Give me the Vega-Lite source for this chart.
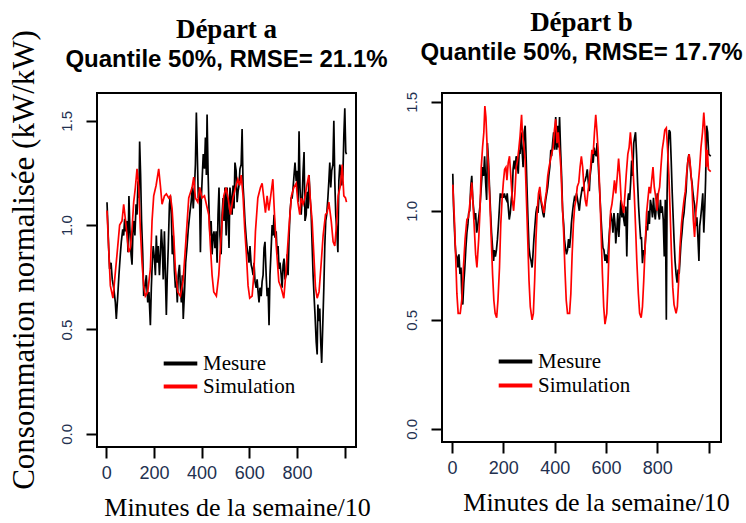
{
"$schema": "https://vega.github.io/schema/vega-lite/v6.json",
"background": "white",
"padding": {"left": 0, "top": 8, "right": 0, "bottom": 0},
"config": {
  "view": {"stroke": "black", "strokeWidth": 2},
  "axis": {"grid": false, "domain": false, "tickColor": "black", "tickWidth": 2, "tickSize": 11, "labelFont": "Liberation Sans", "labelColor": "#22304f", "titleFont": "Liberation Serif", "titleFontWeight": "normal", "titleColor": "black"},
  "legend": {"orient": "none", "title": null, "symbolType": "M-1.6,0H1.6", "symbolStrokeWidth": 4, "symbolSize": 441, "labelFont": "Liberation Serif", "labelFontSize": 21, "labelColor": "black", "rowPadding": 0, "labelOffset": 10, "padding": 0},
  "title": {"font": "Liberation Serif", "fontSize": 27, "fontWeight": "bold", "color": "black", "subtitleFont": "Liberation Sans", "subtitleFontSize": 24, "subtitleFontWeight": "bold", "subtitleColor": "black", "anchor": "middle", "subtitlePadding": 4}
},
"bounds": "flush",
"spacing": 47,
"datasets": {
"a": [
{"x":3,"y":1.11,"s":"Mesure"},{"x":10,"y":0.89,"s":"Mesure"},{"x":14,"y":0.79,"s":"Mesure"},{"x":20,"y":0.82,"s":"Mesure"},{"x":25,"y":0.74,"s":"Mesure"},{"x":31,"y":0.70,"s":"Mesure"},{"x":38,"y":0.63,"s":"Mesure"},{"x":42,"y":0.55,"s":"Mesure"},{"x":48,"y":0.66,"s":"Mesure"},{"x":53,"y":0.76,"s":"Mesure"},{"x":59,"y":0.86,"s":"Mesure"},{"x":63,"y":0.92,"s":"Mesure"},{"x":69,"y":0.98,"s":"Mesure"},{"x":73,"y":0.95,"s":"Mesure"},{"x":77,"y":1.03,"s":"Mesure"},{"x":81,"y":0.97,"s":"Mesure"},{"x":87,"y":1.02,"s":"Mesure"},{"x":91,"y":0.87,"s":"Mesure"},{"x":95,"y":1.14,"s":"Mesure"},{"x":99,"y":0.98,"s":"Mesure"},{"x":104,"y":0.86,"s":"Mesure"},{"x":108,"y":0.81,"s":"Mesure"},{"x":112,"y":0.98,"s":"Mesure"},{"x":116,"y":1.02,"s":"Mesure"},{"x":120,"y":0.95,"s":"Mesure"},{"x":125,"y":1.10,"s":"Mesure"},{"x":129,"y":1.05,"s":"Mesure"},{"x":133,"y":1.21,"s":"Mesure"},{"x":137,"y":1.13,"s":"Mesure"},{"x":140,"y":1.40,"s":"Mesure"},{"x":144,"y":1.24,"s":"Mesure"},{"x":148,"y":1.02,"s":"Mesure"},{"x":153,"y":0.86,"s":"Mesure"},{"x":157,"y":0.66,"s":"Mesure"},{"x":162,"y":0.70,"s":"Mesure"},{"x":168,"y":0.76,"s":"Mesure"},{"x":174,"y":0.63,"s":"Mesure"},{"x":179,"y":0.68,"s":"Mesure"},{"x":185,"y":0.52,"s":"Mesure"},{"x":189,"y":0.70,"s":"Mesure"},{"x":193,"y":0.82,"s":"Mesure"},{"x":197,"y":0.90,"s":"Mesure"},{"x":202,"y":0.84,"s":"Mesure"},{"x":206,"y":0.76,"s":"Mesure"},{"x":210,"y":0.95,"s":"Mesure"},{"x":214,"y":0.82,"s":"Mesure"},{"x":218,"y":0.90,"s":"Mesure"},{"x":223,"y":0.76,"s":"Mesure"},{"x":227,"y":0.86,"s":"Mesure"},{"x":231,"y":0.98,"s":"Mesure"},{"x":235,"y":0.90,"s":"Mesure"},{"x":239,"y":0.74,"s":"Mesure"},{"x":244,"y":0.97,"s":"Mesure"},{"x":248,"y":0.76,"s":"Mesure"},{"x":252,"y":0.57,"s":"Mesure"},{"x":256,"y":0.76,"s":"Mesure"},{"x":260,"y":0.89,"s":"Mesure"},{"x":265,"y":1.10,"s":"Mesure"},{"x":269,"y":1.14,"s":"Mesure"},{"x":273,"y":1.05,"s":"Mesure"},{"x":277,"y":0.86,"s":"Mesure"},{"x":281,"y":0.95,"s":"Mesure"},{"x":286,"y":0.78,"s":"Mesure"},{"x":290,"y":0.70,"s":"Mesure"},{"x":294,"y":0.73,"s":"Mesure"},{"x":298,"y":0.63,"s":"Mesure"},{"x":302,"y":0.76,"s":"Mesure"},{"x":307,"y":0.81,"s":"Mesure"},{"x":311,"y":0.70,"s":"Mesure"},{"x":315,"y":0.63,"s":"Mesure"},{"x":319,"y":0.76,"s":"Mesure"},{"x":323,"y":0.55,"s":"Mesure"},{"x":329,"y":0.70,"s":"Mesure"},{"x":333,"y":0.82,"s":"Mesure"},{"x":339,"y":0.90,"s":"Mesure"},{"x":344,"y":0.98,"s":"Mesure"},{"x":350,"y":1.05,"s":"Mesure"},{"x":356,"y":1.11,"s":"Mesure"},{"x":361,"y":1.18,"s":"Mesure"},{"x":365,"y":1.08,"s":"Mesure"},{"x":370,"y":1.18,"s":"Mesure"},{"x":374,"y":1.29,"s":"Mesure"},{"x":378,"y":1.54,"s":"Mesure"},{"x":382,"y":1.34,"s":"Mesure"},{"x":386,"y":1.13,"s":"Mesure"},{"x":391,"y":1.18,"s":"Mesure"},{"x":395,"y":0.87,"s":"Mesure"},{"x":399,"y":1.13,"s":"Mesure"},{"x":403,"y":1.24,"s":"Mesure"},{"x":407,"y":1.34,"s":"Mesure"},{"x":412,"y":1.27,"s":"Mesure"},{"x":416,"y":1.42,"s":"Mesure"},{"x":420,"y":1.24,"s":"Mesure"},{"x":423,"y":1.53,"s":"Mesure"},{"x":427,"y":1.26,"s":"Mesure"},{"x":431,"y":1.08,"s":"Mesure"},{"x":435,"y":0.95,"s":"Mesure"},{"x":440,"y":1.02,"s":"Mesure"},{"x":444,"y":0.86,"s":"Mesure"},{"x":448,"y":0.95,"s":"Mesure"},{"x":452,"y":0.97,"s":"Mesure"},{"x":456,"y":0.89,"s":"Mesure"},{"x":461,"y":0.97,"s":"Mesure"},{"x":465,"y":0.82,"s":"Mesure"},{"x":469,"y":1.05,"s":"Mesure"},{"x":473,"y":1.18,"s":"Mesure"},{"x":477,"y":0.95,"s":"Mesure"},{"x":482,"y":0.86,"s":"Mesure"},{"x":486,"y":1.05,"s":"Mesure"},{"x":490,"y":1.13,"s":"Mesure"},{"x":494,"y":1.02,"s":"Mesure"},{"x":498,"y":1.18,"s":"Mesure"},{"x":503,"y":0.95,"s":"Mesure"},{"x":507,"y":1.18,"s":"Mesure"},{"x":511,"y":1.05,"s":"Mesure"},{"x":515,"y":0.89,"s":"Mesure"},{"x":519,"y":1.18,"s":"Mesure"},{"x":524,"y":1.13,"s":"Mesure"},{"x":528,"y":1.05,"s":"Mesure"},{"x":532,"y":1.19,"s":"Mesure"},{"x":536,"y":1.08,"s":"Mesure"},{"x":540,"y":1.30,"s":"Mesure"},{"x":545,"y":1.26,"s":"Mesure"},{"x":549,"y":1.11,"s":"Mesure"},{"x":553,"y":1.16,"s":"Mesure"},{"x":557,"y":1.19,"s":"Mesure"},{"x":561,"y":1.27,"s":"Mesure"},{"x":566,"y":1.29,"s":"Mesure"},{"x":570,"y":1.46,"s":"Mesure"},{"x":574,"y":1.19,"s":"Mesure"},{"x":578,"y":1.11,"s":"Mesure"},{"x":582,"y":1.02,"s":"Mesure"},{"x":587,"y":0.94,"s":"Mesure"},{"x":591,"y":0.89,"s":"Mesure"},{"x":595,"y":0.86,"s":"Mesure"},{"x":599,"y":0.82,"s":"Mesure"},{"x":603,"y":0.90,"s":"Mesure"},{"x":608,"y":0.81,"s":"Mesure"},{"x":612,"y":0.79,"s":"Mesure"},{"x":616,"y":0.76,"s":"Mesure"},{"x":620,"y":0.82,"s":"Mesure"},{"x":624,"y":0.73,"s":"Mesure"},{"x":629,"y":0.70,"s":"Mesure"},{"x":633,"y":0.74,"s":"Mesure"},{"x":637,"y":0.68,"s":"Mesure"},{"x":641,"y":0.63,"s":"Mesure"},{"x":645,"y":0.70,"s":"Mesure"},{"x":650,"y":0.66,"s":"Mesure"},{"x":654,"y":0.73,"s":"Mesure"},{"x":658,"y":0.76,"s":"Mesure"},{"x":662,"y":0.89,"s":"Mesure"},{"x":666,"y":0.92,"s":"Mesure"},{"x":671,"y":0.76,"s":"Mesure"},{"x":675,"y":0.66,"s":"Mesure"},{"x":679,"y":0.70,"s":"Mesure"},{"x":683,"y":0.52,"s":"Mesure"},{"x":687,"y":0.76,"s":"Mesure"},{"x":692,"y":0.89,"s":"Mesure"},{"x":696,"y":1.00,"s":"Mesure"},{"x":700,"y":0.95,"s":"Mesure"},{"x":704,"y":1.05,"s":"Mesure"},{"x":708,"y":0.94,"s":"Mesure"},{"x":713,"y":0.97,"s":"Mesure"},{"x":717,"y":0.86,"s":"Mesure"},{"x":721,"y":0.90,"s":"Mesure"},{"x":725,"y":0.79,"s":"Mesure"},{"x":729,"y":0.82,"s":"Mesure"},{"x":734,"y":0.76,"s":"Mesure"},{"x":738,"y":0.70,"s":"Mesure"},{"x":742,"y":0.81,"s":"Mesure"},{"x":746,"y":0.84,"s":"Mesure"},{"x":750,"y":0.74,"s":"Mesure"},{"x":755,"y":0.76,"s":"Mesure"},{"x":759,"y":0.86,"s":"Mesure"},{"x":763,"y":0.76,"s":"Mesure"},{"x":767,"y":0.94,"s":"Mesure"},{"x":771,"y":1.06,"s":"Mesure"},{"x":776,"y":1.13,"s":"Mesure"},{"x":780,"y":1.13,"s":"Mesure"},{"x":784,"y":1.18,"s":"Mesure"},{"x":788,"y":1.24,"s":"Mesure"},{"x":792,"y":1.30,"s":"Mesure"},{"x":797,"y":1.21,"s":"Mesure"},{"x":801,"y":1.26,"s":"Mesure"},{"x":805,"y":1.11,"s":"Mesure"},{"x":809,"y":1.45,"s":"Mesure"},{"x":813,"y":1.18,"s":"Mesure"},{"x":818,"y":1.05,"s":"Mesure"},{"x":822,"y":1.13,"s":"Mesure"},{"x":826,"y":1.26,"s":"Mesure"},{"x":830,"y":1.35,"s":"Mesure"},{"x":834,"y":1.02,"s":"Mesure"},{"x":839,"y":1.05,"s":"Mesure"},{"x":843,"y":1.16,"s":"Mesure"},{"x":847,"y":1.08,"s":"Mesure"},{"x":851,"y":1.24,"s":"Mesure"},{"x":855,"y":1.14,"s":"Mesure"},{"x":860,"y":1.05,"s":"Mesure"},{"x":864,"y":0.90,"s":"Mesure"},{"x":868,"y":0.76,"s":"Mesure"},{"x":872,"y":0.66,"s":"Mesure"},{"x":876,"y":0.57,"s":"Mesure"},{"x":881,"y":0.44,"s":"Mesure"},{"x":885,"y":0.38,"s":"Mesure"},{"x":888,"y":0.62,"s":"Mesure"},{"x":892,"y":0.54,"s":"Mesure"},{"x":896,"y":0.60,"s":"Mesure"},{"x":900,"y":0.44,"s":"Mesure"},{"x":904,"y":0.34,"s":"Mesure"},{"x":909,"y":0.54,"s":"Mesure"},{"x":913,"y":0.70,"s":"Mesure"},{"x":917,"y":0.90,"s":"Mesure"},{"x":921,"y":1.02,"s":"Mesure"},{"x":925,"y":1.05,"s":"Mesure"},{"x":930,"y":1.13,"s":"Mesure"},{"x":934,"y":1.21,"s":"Mesure"},{"x":938,"y":1.30,"s":"Mesure"},{"x":942,"y":1.18,"s":"Mesure"},{"x":946,"y":1.26,"s":"Mesure"},{"x":951,"y":1.29,"s":"Mesure"},{"x":955,"y":1.50,"s":"Mesure"},{"x":959,"y":1.21,"s":"Mesure"},{"x":963,"y":1.05,"s":"Mesure"},{"x":967,"y":0.98,"s":"Mesure"},{"x":972,"y":0.87,"s":"Mesure"},{"x":976,"y":1.21,"s":"Mesure"},{"x":980,"y":1.29,"s":"Mesure"},{"x":984,"y":1.26,"s":"Mesure"},{"x":988,"y":1.19,"s":"Mesure"},{"x":993,"y":1.24,"s":"Mesure"},{"x":997,"y":1.43,"s":"Mesure"},{"x":1001,"y":1.56,"s":"Mesure"},{"x":1005,"y":1.35,"s":"Mesure"},{"x":1008,"y":1.34,"s":"Mesure"},
{"x":3,"y":1.07,"s":"Simulation"},{"x":17,"y":0.71,"s":"Simulation"},{"x":28,"y":0.65,"s":"Simulation"},{"x":45,"y":0.86,"s":"Simulation"},{"x":56,"y":1.00,"s":"Simulation"},{"x":66,"y":1.02,"s":"Simulation"},{"x":73,"y":1.10,"s":"Simulation"},{"x":80,"y":1.03,"s":"Simulation"},{"x":87,"y":0.95,"s":"Simulation"},{"x":94,"y":0.87,"s":"Simulation"},{"x":101,"y":0.89,"s":"Simulation"},{"x":108,"y":0.98,"s":"Simulation"},{"x":115,"y":1.11,"s":"Simulation"},{"x":122,"y":1.18,"s":"Simulation"},{"x":129,"y":1.27,"s":"Simulation"},{"x":136,"y":1.18,"s":"Simulation"},{"x":143,"y":0.98,"s":"Simulation"},{"x":150,"y":0.82,"s":"Simulation"},{"x":157,"y":0.71,"s":"Simulation"},{"x":164,"y":0.66,"s":"Simulation"},{"x":174,"y":0.68,"s":"Simulation"},{"x":185,"y":0.79,"s":"Simulation"},{"x":192,"y":1.02,"s":"Simulation"},{"x":199,"y":1.14,"s":"Simulation"},{"x":209,"y":1.19,"s":"Simulation"},{"x":220,"y":1.27,"s":"Simulation"},{"x":227,"y":1.19,"s":"Simulation"},{"x":234,"y":1.10,"s":"Simulation"},{"x":244,"y":1.14,"s":"Simulation"},{"x":252,"y":1.15,"s":"Simulation"},{"x":262,"y":1.13,"s":"Simulation"},{"x":269,"y":1.14,"s":"Simulation"},{"x":276,"y":1.08,"s":"Simulation"},{"x":283,"y":0.95,"s":"Simulation"},{"x":290,"y":0.79,"s":"Simulation"},{"x":300,"y":0.68,"s":"Simulation"},{"x":311,"y":0.66,"s":"Simulation"},{"x":322,"y":0.73,"s":"Simulation"},{"x":332,"y":0.89,"s":"Simulation"},{"x":346,"y":1.13,"s":"Simulation"},{"x":360,"y":1.18,"s":"Simulation"},{"x":367,"y":1.23,"s":"Simulation"},{"x":374,"y":1.13,"s":"Simulation"},{"x":384,"y":1.11,"s":"Simulation"},{"x":392,"y":1.18,"s":"Simulation"},{"x":402,"y":1.13,"s":"Simulation"},{"x":412,"y":1.14,"s":"Simulation"},{"x":420,"y":1.10,"s":"Simulation"},{"x":430,"y":1.05,"s":"Simulation"},{"x":437,"y":0.90,"s":"Simulation"},{"x":444,"y":0.76,"s":"Simulation"},{"x":451,"y":0.68,"s":"Simulation"},{"x":462,"y":0.66,"s":"Simulation"},{"x":472,"y":0.76,"s":"Simulation"},{"x":482,"y":0.95,"s":"Simulation"},{"x":493,"y":1.14,"s":"Simulation"},{"x":503,"y":1.18,"s":"Simulation"},{"x":511,"y":1.13,"s":"Simulation"},{"x":521,"y":1.05,"s":"Simulation"},{"x":532,"y":1.13,"s":"Simulation"},{"x":542,"y":1.18,"s":"Simulation"},{"x":552,"y":1.22,"s":"Simulation"},{"x":560,"y":1.19,"s":"Simulation"},{"x":566,"y":1.24,"s":"Simulation"},{"x":574,"y":1.14,"s":"Simulation"},{"x":581,"y":0.98,"s":"Simulation"},{"x":588,"y":0.86,"s":"Simulation"},{"x":595,"y":0.71,"s":"Simulation"},{"x":602,"y":0.65,"s":"Simulation"},{"x":612,"y":0.66,"s":"Simulation"},{"x":619,"y":0.76,"s":"Simulation"},{"x":626,"y":0.97,"s":"Simulation"},{"x":636,"y":1.13,"s":"Simulation"},{"x":647,"y":1.18,"s":"Simulation"},{"x":654,"y":1.20,"s":"Simulation"},{"x":661,"y":1.13,"s":"Simulation"},{"x":668,"y":1.06,"s":"Simulation"},{"x":675,"y":1.14,"s":"Simulation"},{"x":682,"y":1.07,"s":"Simulation"},{"x":689,"y":1.13,"s":"Simulation"},{"x":699,"y":1.22,"s":"Simulation"},{"x":706,"y":1.05,"s":"Simulation"},{"x":714,"y":0.89,"s":"Simulation"},{"x":724,"y":0.73,"s":"Simulation"},{"x":734,"y":0.70,"s":"Simulation"},{"x":745,"y":0.65,"s":"Simulation"},{"x":755,"y":0.79,"s":"Simulation"},{"x":766,"y":0.98,"s":"Simulation"},{"x":777,"y":1.14,"s":"Simulation"},{"x":787,"y":1.18,"s":"Simulation"},{"x":797,"y":1.20,"s":"Simulation"},{"x":804,"y":1.11,"s":"Simulation"},{"x":812,"y":1.05,"s":"Simulation"},{"x":818,"y":1.13,"s":"Simulation"},{"x":826,"y":1.10,"s":"Simulation"},{"x":833,"y":1.13,"s":"Simulation"},{"x":840,"y":1.18,"s":"Simulation"},{"x":850,"y":1.24,"s":"Simulation"},{"x":857,"y":1.11,"s":"Simulation"},{"x":864,"y":1.02,"s":"Simulation"},{"x":871,"y":0.86,"s":"Simulation"},{"x":878,"y":0.70,"s":"Simulation"},{"x":885,"y":0.65,"s":"Simulation"},{"x":893,"y":0.68,"s":"Simulation"},{"x":902,"y":0.82,"s":"Simulation"},{"x":910,"y":0.95,"s":"Simulation"},{"x":920,"y":1.05,"s":"Simulation"},{"x":927,"y":1.06,"s":"Simulation"},{"x":934,"y":1.11,"s":"Simulation"},{"x":944,"y":1.02,"s":"Simulation"},{"x":952,"y":0.92,"s":"Simulation"},{"x":959,"y":0.90,"s":"Simulation"},{"x":966,"y":1.00,"s":"Simulation"},{"x":973,"y":1.14,"s":"Simulation"},{"x":983,"y":1.19,"s":"Simulation"},{"x":990,"y":1.29,"s":"Simulation"},{"x":997,"y":1.14,"s":"Simulation"},{"x":1004,"y":1.13,"s":"Simulation"},{"x":1008,"y":1.11,"s":"Simulation"}
],
"b": [
{"x":3,"y":1.17,"s":"Mesure"},{"x":6,"y":1.02,"s":"Mesure"},{"x":12,"y":0.85,"s":"Mesure"},{"x":15,"y":0.80,"s":"Mesure"},{"x":19,"y":0.79,"s":"Mesure"},{"x":23,"y":0.74,"s":"Mesure"},{"x":27,"y":0.80,"s":"Mesure"},{"x":31,"y":0.71,"s":"Mesure"},{"x":35,"y":0.74,"s":"Mesure"},{"x":38,"y":0.62,"s":"Mesure"},{"x":42,"y":0.57,"s":"Mesure"},{"x":46,"y":0.67,"s":"Mesure"},{"x":50,"y":0.74,"s":"Mesure"},{"x":54,"y":0.83,"s":"Mesure"},{"x":58,"y":0.90,"s":"Mesure"},{"x":62,"y":0.94,"s":"Mesure"},{"x":65,"y":0.99,"s":"Mesure"},{"x":69,"y":1.00,"s":"Mesure"},{"x":73,"y":1.11,"s":"Mesure"},{"x":77,"y":1.16,"s":"Mesure"},{"x":81,"y":1.05,"s":"Mesure"},{"x":85,"y":1.00,"s":"Mesure"},{"x":88,"y":0.96,"s":"Mesure"},{"x":92,"y":0.99,"s":"Mesure"},{"x":96,"y":0.90,"s":"Mesure"},{"x":100,"y":0.93,"s":"Mesure"},{"x":104,"y":0.97,"s":"Mesure"},{"x":109,"y":1.02,"s":"Mesure"},{"x":114,"y":1.11,"s":"Mesure"},{"x":119,"y":1.20,"s":"Mesure"},{"x":123,"y":1.16,"s":"Mesure"},{"x":127,"y":1.25,"s":"Mesure"},{"x":131,"y":1.13,"s":"Mesure"},{"x":135,"y":1.05,"s":"Mesure"},{"x":138,"y":1.31,"s":"Mesure"},{"x":142,"y":1.23,"s":"Mesure"},{"x":146,"y":1.11,"s":"Mesure"},{"x":150,"y":1.00,"s":"Mesure"},{"x":154,"y":0.90,"s":"Mesure"},{"x":158,"y":0.83,"s":"Mesure"},{"x":162,"y":0.77,"s":"Mesure"},{"x":165,"y":0.82,"s":"Mesure"},{"x":169,"y":0.79,"s":"Mesure"},{"x":173,"y":0.82,"s":"Mesure"},{"x":177,"y":0.87,"s":"Mesure"},{"x":181,"y":0.94,"s":"Mesure"},{"x":185,"y":1.02,"s":"Mesure"},{"x":188,"y":1.08,"s":"Mesure"},{"x":192,"y":1.06,"s":"Mesure"},{"x":196,"y":1.08,"s":"Mesure"},{"x":200,"y":1.06,"s":"Mesure"},{"x":204,"y":1.08,"s":"Mesure"},{"x":208,"y":1.06,"s":"Mesure"},{"x":212,"y":1.05,"s":"Mesure"},{"x":215,"y":1.08,"s":"Mesure"},{"x":219,"y":1.02,"s":"Mesure"},{"x":223,"y":0.96,"s":"Mesure"},{"x":227,"y":0.99,"s":"Mesure"},{"x":231,"y":1.05,"s":"Mesure"},{"x":235,"y":1.09,"s":"Mesure"},{"x":238,"y":1.19,"s":"Mesure"},{"x":242,"y":1.23,"s":"Mesure"},{"x":246,"y":1.19,"s":"Mesure"},{"x":250,"y":1.25,"s":"Mesure"},{"x":254,"y":1.22,"s":"Mesure"},{"x":258,"y":1.17,"s":"Mesure"},{"x":262,"y":1.28,"s":"Mesure"},{"x":265,"y":1.26,"s":"Mesure"},{"x":269,"y":1.36,"s":"Mesure"},{"x":273,"y":1.28,"s":"Mesure"},{"x":277,"y":1.20,"s":"Mesure"},{"x":281,"y":1.36,"s":"Mesure"},{"x":285,"y":1.39,"s":"Mesure"},{"x":288,"y":1.28,"s":"Mesure"},{"x":292,"y":1.11,"s":"Mesure"},{"x":296,"y":0.96,"s":"Mesure"},{"x":300,"y":0.83,"s":"Mesure"},{"x":304,"y":0.79,"s":"Mesure"},{"x":308,"y":0.77,"s":"Mesure"},{"x":312,"y":0.74,"s":"Mesure"},{"x":315,"y":0.79,"s":"Mesure"},{"x":319,"y":0.87,"s":"Mesure"},{"x":323,"y":0.93,"s":"Mesure"},{"x":327,"y":0.99,"s":"Mesure"},{"x":331,"y":1.02,"s":"Mesure"},{"x":335,"y":0.99,"s":"Mesure"},{"x":338,"y":1.05,"s":"Mesure"},{"x":342,"y":1.08,"s":"Mesure"},{"x":346,"y":1.05,"s":"Mesure"},{"x":350,"y":1.02,"s":"Mesure"},{"x":354,"y":0.99,"s":"Mesure"},{"x":358,"y":0.97,"s":"Mesure"},{"x":362,"y":1.02,"s":"Mesure"},{"x":365,"y":1.05,"s":"Mesure"},{"x":369,"y":1.08,"s":"Mesure"},{"x":373,"y":1.11,"s":"Mesure"},{"x":377,"y":1.16,"s":"Mesure"},{"x":381,"y":1.20,"s":"Mesure"},{"x":385,"y":1.28,"s":"Mesure"},{"x":388,"y":1.25,"s":"Mesure"},{"x":392,"y":1.31,"s":"Mesure"},{"x":396,"y":1.36,"s":"Mesure"},{"x":400,"y":1.28,"s":"Mesure"},{"x":404,"y":1.43,"s":"Mesure"},{"x":408,"y":1.28,"s":"Mesure"},{"x":412,"y":1.39,"s":"Mesure"},{"x":415,"y":1.29,"s":"Mesure"},{"x":419,"y":1.43,"s":"Mesure"},{"x":423,"y":1.28,"s":"Mesure"},{"x":427,"y":1.16,"s":"Mesure"},{"x":431,"y":1.00,"s":"Mesure"},{"x":435,"y":0.94,"s":"Mesure"},{"x":438,"y":0.87,"s":"Mesure"},{"x":442,"y":0.83,"s":"Mesure"},{"x":446,"y":0.80,"s":"Mesure"},{"x":450,"y":0.82,"s":"Mesure"},{"x":454,"y":0.87,"s":"Mesure"},{"x":458,"y":0.83,"s":"Mesure"},{"x":462,"y":0.88,"s":"Mesure"},{"x":465,"y":0.94,"s":"Mesure"},{"x":469,"y":0.99,"s":"Mesure"},{"x":473,"y":1.03,"s":"Mesure"},{"x":477,"y":1.06,"s":"Mesure"},{"x":481,"y":1.05,"s":"Mesure"},{"x":485,"y":1.08,"s":"Mesure"},{"x":488,"y":1.06,"s":"Mesure"},{"x":492,"y":1.03,"s":"Mesure"},{"x":496,"y":1.00,"s":"Mesure"},{"x":500,"y":1.05,"s":"Mesure"},{"x":504,"y":1.08,"s":"Mesure"},{"x":508,"y":1.11,"s":"Mesure"},{"x":512,"y":1.09,"s":"Mesure"},{"x":515,"y":1.13,"s":"Mesure"},{"x":519,"y":1.14,"s":"Mesure"},{"x":523,"y":1.16,"s":"Mesure"},{"x":527,"y":1.19,"s":"Mesure"},{"x":531,"y":1.13,"s":"Mesure"},{"x":535,"y":1.09,"s":"Mesure"},{"x":538,"y":1.16,"s":"Mesure"},{"x":542,"y":1.20,"s":"Mesure"},{"x":546,"y":1.26,"s":"Mesure"},{"x":550,"y":1.22,"s":"Mesure"},{"x":554,"y":1.29,"s":"Mesure"},{"x":558,"y":1.26,"s":"Mesure"},{"x":562,"y":1.25,"s":"Mesure"},{"x":565,"y":1.31,"s":"Mesure"},{"x":569,"y":1.23,"s":"Mesure"},{"x":573,"y":1.14,"s":"Mesure"},{"x":577,"y":1.05,"s":"Mesure"},{"x":581,"y":0.96,"s":"Mesure"},{"x":585,"y":0.88,"s":"Mesure"},{"x":588,"y":0.83,"s":"Mesure"},{"x":592,"y":0.82,"s":"Mesure"},{"x":596,"y":0.77,"s":"Mesure"},{"x":600,"y":0.80,"s":"Mesure"},{"x":604,"y":0.76,"s":"Mesure"},{"x":608,"y":0.80,"s":"Mesure"},{"x":612,"y":0.88,"s":"Mesure"},{"x":615,"y":0.93,"s":"Mesure"},{"x":619,"y":0.99,"s":"Mesure"},{"x":623,"y":0.96,"s":"Mesure"},{"x":627,"y":0.90,"s":"Mesure"},{"x":631,"y":0.99,"s":"Mesure"},{"x":635,"y":0.94,"s":"Mesure"},{"x":638,"y":0.85,"s":"Mesure"},{"x":642,"y":0.91,"s":"Mesure"},{"x":646,"y":0.99,"s":"Mesure"},{"x":650,"y":0.88,"s":"Mesure"},{"x":654,"y":0.97,"s":"Mesure"},{"x":658,"y":1.05,"s":"Mesure"},{"x":662,"y":0.97,"s":"Mesure"},{"x":665,"y":1.02,"s":"Mesure"},{"x":669,"y":0.96,"s":"Mesure"},{"x":673,"y":0.93,"s":"Mesure"},{"x":677,"y":1.02,"s":"Mesure"},{"x":681,"y":0.79,"s":"Mesure"},{"x":685,"y":1.05,"s":"Mesure"},{"x":688,"y":1.08,"s":"Mesure"},{"x":692,"y":1.05,"s":"Mesure"},{"x":696,"y":1.13,"s":"Mesure"},{"x":700,"y":1.23,"s":"Mesure"},{"x":704,"y":1.16,"s":"Mesure"},{"x":708,"y":1.31,"s":"Mesure"},{"x":712,"y":1.34,"s":"Mesure"},{"x":715,"y":1.36,"s":"Mesure"},{"x":719,"y":1.26,"s":"Mesure"},{"x":723,"y":1.13,"s":"Mesure"},{"x":727,"y":1.02,"s":"Mesure"},{"x":731,"y":0.94,"s":"Mesure"},{"x":735,"y":0.87,"s":"Mesure"},{"x":738,"y":0.88,"s":"Mesure"},{"x":742,"y":0.76,"s":"Mesure"},{"x":746,"y":0.82,"s":"Mesure"},{"x":750,"y":0.80,"s":"Mesure"},{"x":754,"y":0.87,"s":"Mesure"},{"x":758,"y":0.93,"s":"Mesure"},{"x":762,"y":0.91,"s":"Mesure"},{"x":765,"y":1.00,"s":"Mesure"},{"x":769,"y":0.94,"s":"Mesure"},{"x":773,"y":1.05,"s":"Mesure"},{"x":777,"y":1.02,"s":"Mesure"},{"x":781,"y":0.97,"s":"Mesure"},{"x":785,"y":1.06,"s":"Mesure"},{"x":788,"y":1.00,"s":"Mesure"},{"x":792,"y":0.96,"s":"Mesure"},{"x":796,"y":1.02,"s":"Mesure"},{"x":800,"y":1.08,"s":"Mesure"},{"x":804,"y":0.99,"s":"Mesure"},{"x":808,"y":0.96,"s":"Mesure"},{"x":812,"y":1.05,"s":"Mesure"},{"x":815,"y":0.99,"s":"Mesure"},{"x":819,"y":1.02,"s":"Mesure"},{"x":823,"y":0.96,"s":"Mesure"},{"x":827,"y":0.79,"s":"Mesure"},{"x":831,"y":1.05,"s":"Mesure"},{"x":835,"y":0.50,"s":"Mesure"},{"x":838,"y":1.08,"s":"Mesure"},{"x":842,"y":1.29,"s":"Mesure"},{"x":846,"y":1.37,"s":"Mesure"},{"x":850,"y":1.36,"s":"Mesure"},{"x":854,"y":1.23,"s":"Mesure"},{"x":858,"y":1.08,"s":"Mesure"},{"x":862,"y":0.96,"s":"Mesure"},{"x":865,"y":0.87,"s":"Mesure"},{"x":869,"y":0.77,"s":"Mesure"},{"x":873,"y":0.71,"s":"Mesure"},{"x":877,"y":0.67,"s":"Mesure"},{"x":881,"y":0.73,"s":"Mesure"},{"x":885,"y":0.71,"s":"Mesure"},{"x":888,"y":0.77,"s":"Mesure"},{"x":892,"y":0.85,"s":"Mesure"},{"x":896,"y":0.90,"s":"Mesure"},{"x":900,"y":0.96,"s":"Mesure"},{"x":904,"y":0.99,"s":"Mesure"},{"x":908,"y":1.05,"s":"Mesure"},{"x":912,"y":1.09,"s":"Mesure"},{"x":915,"y":1.17,"s":"Mesure"},{"x":919,"y":1.23,"s":"Mesure"},{"x":923,"y":1.26,"s":"Mesure"},{"x":927,"y":1.22,"s":"Mesure"},{"x":931,"y":1.16,"s":"Mesure"},{"x":935,"y":1.13,"s":"Mesure"},{"x":938,"y":1.09,"s":"Mesure"},{"x":942,"y":1.05,"s":"Mesure"},{"x":946,"y":1.02,"s":"Mesure"},{"x":950,"y":0.93,"s":"Mesure"},{"x":954,"y":0.97,"s":"Mesure"},{"x":958,"y":0.88,"s":"Mesure"},{"x":962,"y":0.77,"s":"Mesure"},{"x":965,"y":0.93,"s":"Mesure"},{"x":969,"y":0.97,"s":"Mesure"},{"x":973,"y":1.02,"s":"Mesure"},{"x":977,"y":1.08,"s":"Mesure"},{"x":981,"y":0.90,"s":"Mesure"},{"x":985,"y":1.02,"s":"Mesure"},{"x":988,"y":1.14,"s":"Mesure"},{"x":992,"y":1.39,"s":"Mesure"},{"x":996,"y":1.36,"s":"Mesure"},{"x":1000,"y":1.26,"s":"Mesure"},{"x":1008,"y":1.25,"s":"Mesure"},
{"x":3,"y":1.12,"s":"Simulation"},{"x":9,"y":0.97,"s":"Simulation"},{"x":14,"y":0.80,"s":"Simulation"},{"x":19,"y":0.62,"s":"Simulation"},{"x":24,"y":0.53,"s":"Simulation"},{"x":32,"y":0.53,"s":"Simulation"},{"x":38,"y":0.59,"s":"Simulation"},{"x":45,"y":0.75,"s":"Simulation"},{"x":51,"y":0.87,"s":"Simulation"},{"x":58,"y":0.96,"s":"Simulation"},{"x":64,"y":0.97,"s":"Simulation"},{"x":71,"y":1.05,"s":"Simulation"},{"x":77,"y":1.13,"s":"Simulation"},{"x":81,"y":1.05,"s":"Simulation"},{"x":86,"y":0.94,"s":"Simulation"},{"x":92,"y":0.80,"s":"Simulation"},{"x":97,"y":0.74,"s":"Simulation"},{"x":104,"y":0.87,"s":"Simulation"},{"x":109,"y":1.00,"s":"Simulation"},{"x":114,"y":1.20,"s":"Simulation"},{"x":119,"y":1.29,"s":"Simulation"},{"x":124,"y":1.36,"s":"Simulation"},{"x":128,"y":1.48,"s":"Simulation"},{"x":132,"y":1.43,"s":"Simulation"},{"x":137,"y":1.29,"s":"Simulation"},{"x":142,"y":1.20,"s":"Simulation"},{"x":147,"y":1.05,"s":"Simulation"},{"x":153,"y":0.87,"s":"Simulation"},{"x":158,"y":0.71,"s":"Simulation"},{"x":163,"y":0.59,"s":"Simulation"},{"x":168,"y":0.53,"s":"Simulation"},{"x":174,"y":0.51,"s":"Simulation"},{"x":179,"y":0.59,"s":"Simulation"},{"x":185,"y":0.74,"s":"Simulation"},{"x":190,"y":0.94,"s":"Simulation"},{"x":195,"y":1.05,"s":"Simulation"},{"x":200,"y":1.13,"s":"Simulation"},{"x":205,"y":1.19,"s":"Simulation"},{"x":210,"y":1.20,"s":"Simulation"},{"x":214,"y":1.14,"s":"Simulation"},{"x":219,"y":1.22,"s":"Simulation"},{"x":224,"y":1.25,"s":"Simulation"},{"x":229,"y":1.16,"s":"Simulation"},{"x":235,"y":1.05,"s":"Simulation"},{"x":240,"y":1.00,"s":"Simulation"},{"x":245,"y":1.08,"s":"Simulation"},{"x":250,"y":1.20,"s":"Simulation"},{"x":255,"y":1.23,"s":"Simulation"},{"x":260,"y":1.28,"s":"Simulation"},{"x":265,"y":1.34,"s":"Simulation"},{"x":271,"y":1.44,"s":"Simulation"},{"x":274,"y":1.36,"s":"Simulation"},{"x":279,"y":1.31,"s":"Simulation"},{"x":285,"y":1.23,"s":"Simulation"},{"x":290,"y":1.05,"s":"Simulation"},{"x":295,"y":0.87,"s":"Simulation"},{"x":300,"y":0.68,"s":"Simulation"},{"x":305,"y":0.56,"s":"Simulation"},{"x":312,"y":0.50,"s":"Simulation"},{"x":317,"y":0.53,"s":"Simulation"},{"x":322,"y":0.68,"s":"Simulation"},{"x":327,"y":0.87,"s":"Simulation"},{"x":332,"y":1.00,"s":"Simulation"},{"x":337,"y":1.08,"s":"Simulation"},{"x":342,"y":1.11,"s":"Simulation"},{"x":347,"y":1.05,"s":"Simulation"},{"x":353,"y":1.02,"s":"Simulation"},{"x":358,"y":0.99,"s":"Simulation"},{"x":363,"y":1.05,"s":"Simulation"},{"x":368,"y":1.09,"s":"Simulation"},{"x":373,"y":1.16,"s":"Simulation"},{"x":378,"y":1.20,"s":"Simulation"},{"x":383,"y":1.23,"s":"Simulation"},{"x":388,"y":1.26,"s":"Simulation"},{"x":394,"y":1.29,"s":"Simulation"},{"x":399,"y":1.37,"s":"Simulation"},{"x":404,"y":1.42,"s":"Simulation"},{"x":409,"y":1.31,"s":"Simulation"},{"x":414,"y":1.36,"s":"Simulation"},{"x":419,"y":1.28,"s":"Simulation"},{"x":424,"y":1.20,"s":"Simulation"},{"x":429,"y":1.05,"s":"Simulation"},{"x":435,"y":0.90,"s":"Simulation"},{"x":440,"y":0.73,"s":"Simulation"},{"x":445,"y":0.59,"s":"Simulation"},{"x":450,"y":0.53,"s":"Simulation"},{"x":458,"y":0.53,"s":"Simulation"},{"x":463,"y":0.62,"s":"Simulation"},{"x":468,"y":0.80,"s":"Simulation"},{"x":473,"y":0.94,"s":"Simulation"},{"x":478,"y":1.02,"s":"Simulation"},{"x":483,"y":1.05,"s":"Simulation"},{"x":488,"y":1.11,"s":"Simulation"},{"x":494,"y":1.13,"s":"Simulation"},{"x":499,"y":1.20,"s":"Simulation"},{"x":504,"y":1.25,"s":"Simulation"},{"x":509,"y":1.20,"s":"Simulation"},{"x":514,"y":1.11,"s":"Simulation"},{"x":519,"y":1.05,"s":"Simulation"},{"x":524,"y":1.02,"s":"Simulation"},{"x":529,"y":1.08,"s":"Simulation"},{"x":535,"y":1.14,"s":"Simulation"},{"x":540,"y":1.20,"s":"Simulation"},{"x":545,"y":1.28,"s":"Simulation"},{"x":550,"y":1.26,"s":"Simulation"},{"x":555,"y":1.36,"s":"Simulation"},{"x":560,"y":1.44,"s":"Simulation"},{"x":565,"y":1.36,"s":"Simulation"},{"x":570,"y":1.26,"s":"Simulation"},{"x":576,"y":1.08,"s":"Simulation"},{"x":581,"y":0.90,"s":"Simulation"},{"x":586,"y":0.71,"s":"Simulation"},{"x":591,"y":0.56,"s":"Simulation"},{"x":596,"y":0.48,"s":"Simulation"},{"x":603,"y":0.53,"s":"Simulation"},{"x":608,"y":0.68,"s":"Simulation"},{"x":613,"y":0.87,"s":"Simulation"},{"x":618,"y":1.00,"s":"Simulation"},{"x":623,"y":1.03,"s":"Simulation"},{"x":628,"y":1.08,"s":"Simulation"},{"x":633,"y":1.14,"s":"Simulation"},{"x":638,"y":1.08,"s":"Simulation"},{"x":644,"y":1.16,"s":"Simulation"},{"x":649,"y":1.24,"s":"Simulation"},{"x":654,"y":1.16,"s":"Simulation"},{"x":659,"y":1.05,"s":"Simulation"},{"x":664,"y":1.02,"s":"Simulation"},{"x":669,"y":0.99,"s":"Simulation"},{"x":674,"y":1.08,"s":"Simulation"},{"x":679,"y":1.17,"s":"Simulation"},{"x":685,"y":1.26,"s":"Simulation"},{"x":690,"y":1.29,"s":"Simulation"},{"x":695,"y":1.36,"s":"Simulation"},{"x":700,"y":1.28,"s":"Simulation"},{"x":705,"y":1.20,"s":"Simulation"},{"x":710,"y":1.08,"s":"Simulation"},{"x":715,"y":0.93,"s":"Simulation"},{"x":720,"y":0.77,"s":"Simulation"},{"x":726,"y":0.62,"s":"Simulation"},{"x":731,"y":0.53,"s":"Simulation"},{"x":737,"y":0.51,"s":"Simulation"},{"x":742,"y":0.56,"s":"Simulation"},{"x":747,"y":0.68,"s":"Simulation"},{"x":753,"y":0.85,"s":"Simulation"},{"x":758,"y":0.99,"s":"Simulation"},{"x":763,"y":1.05,"s":"Simulation"},{"x":768,"y":1.11,"s":"Simulation"},{"x":773,"y":1.08,"s":"Simulation"},{"x":778,"y":1.14,"s":"Simulation"},{"x":783,"y":1.20,"s":"Simulation"},{"x":788,"y":1.11,"s":"Simulation"},{"x":794,"y":1.06,"s":"Simulation"},{"x":799,"y":1.00,"s":"Simulation"},{"x":804,"y":1.08,"s":"Simulation"},{"x":809,"y":1.11,"s":"Simulation"},{"x":814,"y":1.20,"s":"Simulation"},{"x":819,"y":1.28,"s":"Simulation"},{"x":824,"y":1.32,"s":"Simulation"},{"x":829,"y":1.37,"s":"Simulation"},{"x":835,"y":1.38,"s":"Simulation"},{"x":840,"y":1.28,"s":"Simulation"},{"x":845,"y":1.16,"s":"Simulation"},{"x":850,"y":0.99,"s":"Simulation"},{"x":855,"y":0.80,"s":"Simulation"},{"x":860,"y":0.65,"s":"Simulation"},{"x":865,"y":0.57,"s":"Simulation"},{"x":873,"y":0.53,"s":"Simulation"},{"x":878,"y":0.56,"s":"Simulation"},{"x":883,"y":0.68,"s":"Simulation"},{"x":888,"y":0.83,"s":"Simulation"},{"x":894,"y":0.94,"s":"Simulation"},{"x":899,"y":1.00,"s":"Simulation"},{"x":904,"y":1.05,"s":"Simulation"},{"x":909,"y":1.09,"s":"Simulation"},{"x":914,"y":1.17,"s":"Simulation"},{"x":919,"y":1.23,"s":"Simulation"},{"x":924,"y":1.26,"s":"Simulation"},{"x":929,"y":1.20,"s":"Simulation"},{"x":935,"y":1.11,"s":"Simulation"},{"x":940,"y":0.96,"s":"Simulation"},{"x":945,"y":0.88,"s":"Simulation"},{"x":950,"y":0.99,"s":"Simulation"},{"x":955,"y":1.05,"s":"Simulation"},{"x":960,"y":1.13,"s":"Simulation"},{"x":965,"y":1.20,"s":"Simulation"},{"x":970,"y":1.29,"s":"Simulation"},{"x":976,"y":1.36,"s":"Simulation"},{"x":981,"y":1.45,"s":"Simulation"},{"x":986,"y":1.36,"s":"Simulation"},{"x":991,"y":1.20,"s":"Simulation"},{"x":995,"y":1.28,"s":"Simulation"},{"x":999,"y":1.19,"s":"Simulation"},{"x":1008,"y":1.18,"s":"Simulation"}
],
"ytitle": [{"t": "Consommation normalisée (kW/kW)"}]
},
"hconcat": [
{
  "width": 50, "height": 334,
  "view": {"stroke": null},
  "data": {"name": "ytitle"},
  "mark": {"type": "text", "angle": 270, "font": "Liberation Serif", "fontSize": 31, "align": "center", "baseline": "middle", "color": "black"},
  "encoding": {"text": {"field": "t", "type": "nominal"}}
},
{
  "bounds": "flush",
  "spacing": 86,
  "resolve": {"scale": {"color": "independent"}, "legend": {"color": "independent"}},
  "hconcat": [
  {
    "width": 259, "height": 354,
    "title": {"text": "Départ a", "subtitle": "Quantile 50%, RMSE= 21.1%", "offset": 20},
    "data": {"name": "a"},
    "mark": {"type": "line", "strokeWidth": 1.7, "clip": true},
    "encoding": {
      "x": {"field": "x", "type": "quantitative", "scale": {"domain": [-39, 1048], "nice": false, "zero": false},
            "axis": {"values": [0, 200, 400, 600, 800, 1000], "labelExpr": "datum.value == 1000 ? '' : datum.label", "title": "Minutes de la semaine/10", "titleX": 140, "labelFontSize": 18, "labelPadding": 6, "titleFontSize": 26, "titlePadding": 12}},
      "y": {"field": "y", "type": "quantitative", "scale": {"domain": [-0.063, 1.633], "nice": false, "zero": false},
            "axis": {"values": [0, 0.5, 1, 1.5], "format": ".1f", "labelAngle": -90, "labelFontSize": 15, "labelPadding": 12, "title": null}},
      "color": {"field": "s", "type": "nominal", "scale": {"domain": ["Mesure", "Simulation"], "range": ["black", "#ff0000"]},
                "legend": {"legendX": 71, "legendY": 258}}
    }
  },
  {
    "width": 279, "height": 349,
    "title": {"text": "Départ b", "subtitle": "Quantile 50%, RMSE= 17.7%", "offset": 25},
    "data": {"name": "b"},
    "mark": {"type": "line", "strokeWidth": 1.7, "clip": true},
    "encoding": {
      "x": {"field": "x", "type": "quantitative", "scale": {"domain": [-39, 1048], "nice": false, "zero": false},
            "axis": {"values": [0, 200, 400, 600, 800, 1000], "labelExpr": "datum.value == 1000 ? '' : datum.label", "title": "Minutes de la semaine/10", "titleX": 154, "labelFontSize": 18, "labelPadding": 6, "titleFontSize": 26, "titlePadding": 12}},
      "y": {"field": "y", "type": "quantitative", "scale": {"domain": [-0.06, 1.54], "nice": false, "zero": false},
            "axis": {"values": [0, 0.5, 1, 1.5], "format": ".1f", "labelAngle": -90, "labelFontSize": 15, "labelPadding": 12, "title": null}},
      "color": {"field": "s", "type": "nominal", "scale": {"domain": ["Mesure", "Simulation"], "range": ["black", "#ff0000"]},
                "legend": {"legendX": 61, "legendY": 256, "rowPadding": 1}}
    }
  }
  ]
}
]
}
